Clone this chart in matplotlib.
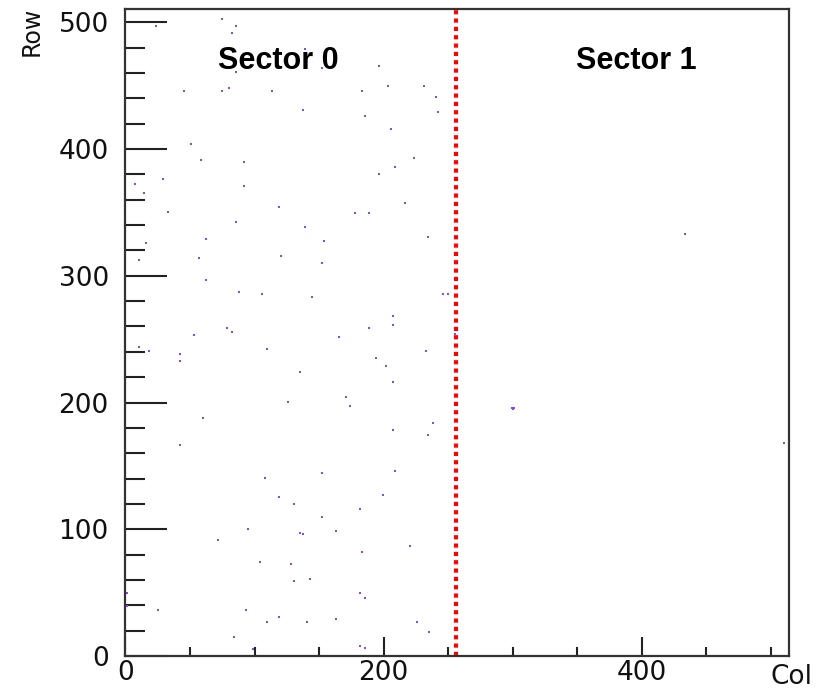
import matplotlib.pyplot as plt
from matplotlib.ticker import MultipleLocator

plt.rcParams['font.family'] = ['Liberation Sans', 'DejaVu Sans']

# hit positions (column, row)
col = [23.6, 74.8, 85.9, 82.3, 85.9, 45.6, 74.8, 80.5, 113.6, 51.0,
       58.5, 91.6, 139.2, 152.1, 196.1, 183.5, 203.6, 231.0, 240.4, 137.4,
       185.3, 242.5, 205.4, 223.8, 209.1, 29.0, 7.0, 91.6, 14.5, 32.9,
       119.1, 85.9, 16.1, 62.1, 10.6, 56.7, 120.8, 62.1, 88.0, 106.1,
       78.7, 196.1, 216.3, 178.0, 188.9, 139.2, 154.0, 234.7, 152.1, 144.7,
       245.8, 249.7, 207.2, 207.2, 188.9, 53.1, 82.3, 10.6, 18.2, 41.9,
       41.9, 110.0, 126.3, 60.3, 41.9, 107.9, 165.1, 255.1, 232.8, 194.3,
       201.6, 135.6, 207.2, 170.5, 174.2, 238.6, 207.2, 234.7, 152.1, 209.1,
       119.1, 95.0, 71.4, 104.5, 1.3, 1.3, 25.4, 93.4, 110.0, 119.1,
       84.1, 99.1, 199.8, 130.2, 181.4, 152.1, 135.4, 137.4, 163.3, 183.5,
       220.2, 128.4, 130.2, 142.8, 181.4, 185.3, 141.0, 163.3, 225.6, 234.9,
       181.4, 185.3, 433.4, 299.4, 300.2, 301.0, 510.4]
row = [497.2, 502.8, 497.0, 491.5, 460.4, 445.7, 445.7, 448.1, 445.7, 403.6,
       391.2, 389.9, 479.3, 464.3, 465.9, 445.7, 449.6, 449.6, 441.4, 430.7,
       426.4, 429.1, 415.7, 392.8, 385.7, 376.2, 372.3, 371.0, 365.4, 350.7,
       354.6, 342.3, 326.2, 328.9, 312.5, 313.9, 315.5, 296.5, 287.1, 285.5,
       258.5, 380.4, 357.3, 349.4, 349.4, 338.4, 327.5, 330.5, 309.9, 283.1,
       285.5, 285.5, 268.1, 261.2, 258.6, 253.1, 255.7, 243.6, 241.0, 238.1,
       232.6, 242.3, 200.2, 188.1, 166.3, 140.5, 251.8, 254.4, 240.7, 235.4,
       228.7, 224.4, 216.5, 204.2, 197.6, 183.9, 178.6, 174.4, 144.7, 146.0,
       125.7, 100.0, 91.8, 74.2, 49.7, 39.2, 36.3, 36.3, 26.8, 30.8,
       14.8, 5.3, 127.1, 120.2, 116.3, 109.5, 97.3, 96.1, 98.7, 82.3,
       86.6, 72.8, 59.4, 60.8, 49.7, 45.8, 26.8, 29.4, 26.8, 18.7,
       7.9, 6.6, 333.1, 195.6, 194.8, 195.4, 167.9]

sector_names = ['Sector 0', 'Sector 1']
sector_x = [118.5, 396]
sector_y = 469.6
boundary = 256

fig = plt.figure(figsize=(8.19, 6.91), dpi=100)
ax = fig.add_axes([0.1532, 0.0506, 0.810, 0.9364])

ax.plot(col, row, ls='', marker='s', ms=1.8, mew=0, color='#8448ff')
ax.axvline(boundary, color='red', lw=3, ls=(0, (1, 1)))

for name, sx in zip(sector_names, sector_x):
    ax.text(sx, sector_y, name, ha='center', va='center',
            fontsize=22, fontweight='bold')

ax.set_xlim(0, 514)
ax.set_ylim(0, 510.5)

ax.xaxis.set_major_locator(MultipleLocator(200))
ax.xaxis.set_minor_locator(MultipleLocator(50))
ax.yaxis.set_major_locator(MultipleLocator(100))
ax.yaxis.set_minor_locator(MultipleLocator(20))

ax.tick_params(axis='both', which='both', direction='in', width=1.5,
               color='#222222', labelsize=19, top=False, right=False)
ax.tick_params(axis='y', which='major', length=30, pad=12)
ax.tick_params(axis='y', which='minor', length=14.5)
ax.tick_params(axis='x', which='major', length=13.5, pad=3)
ax.tick_params(axis='x', which='minor', length=6.8)
for lab in ax.get_xticklabels() + ax.get_yticklabels():
    lab.set_family('DejaVu Sans')
    lab.set_color('#111111')

for s in ax.spines.values():
    s.set_linewidth(1.6)
    s.set_color('#333333')

fig.text(812 / 819, 1 - 690 / 691, 'Col', ha='right', va='bottom', fontsize=19,
         family='DejaVu Sans', color='#111111')
fig.text(20 / 819, 1 - 7 / 691, 'Row', ha='left', va='top', rotation=90,
         fontsize=17, family='DejaVu Sans', color='#111111')

fig.savefig('out.png', dpi=100)
